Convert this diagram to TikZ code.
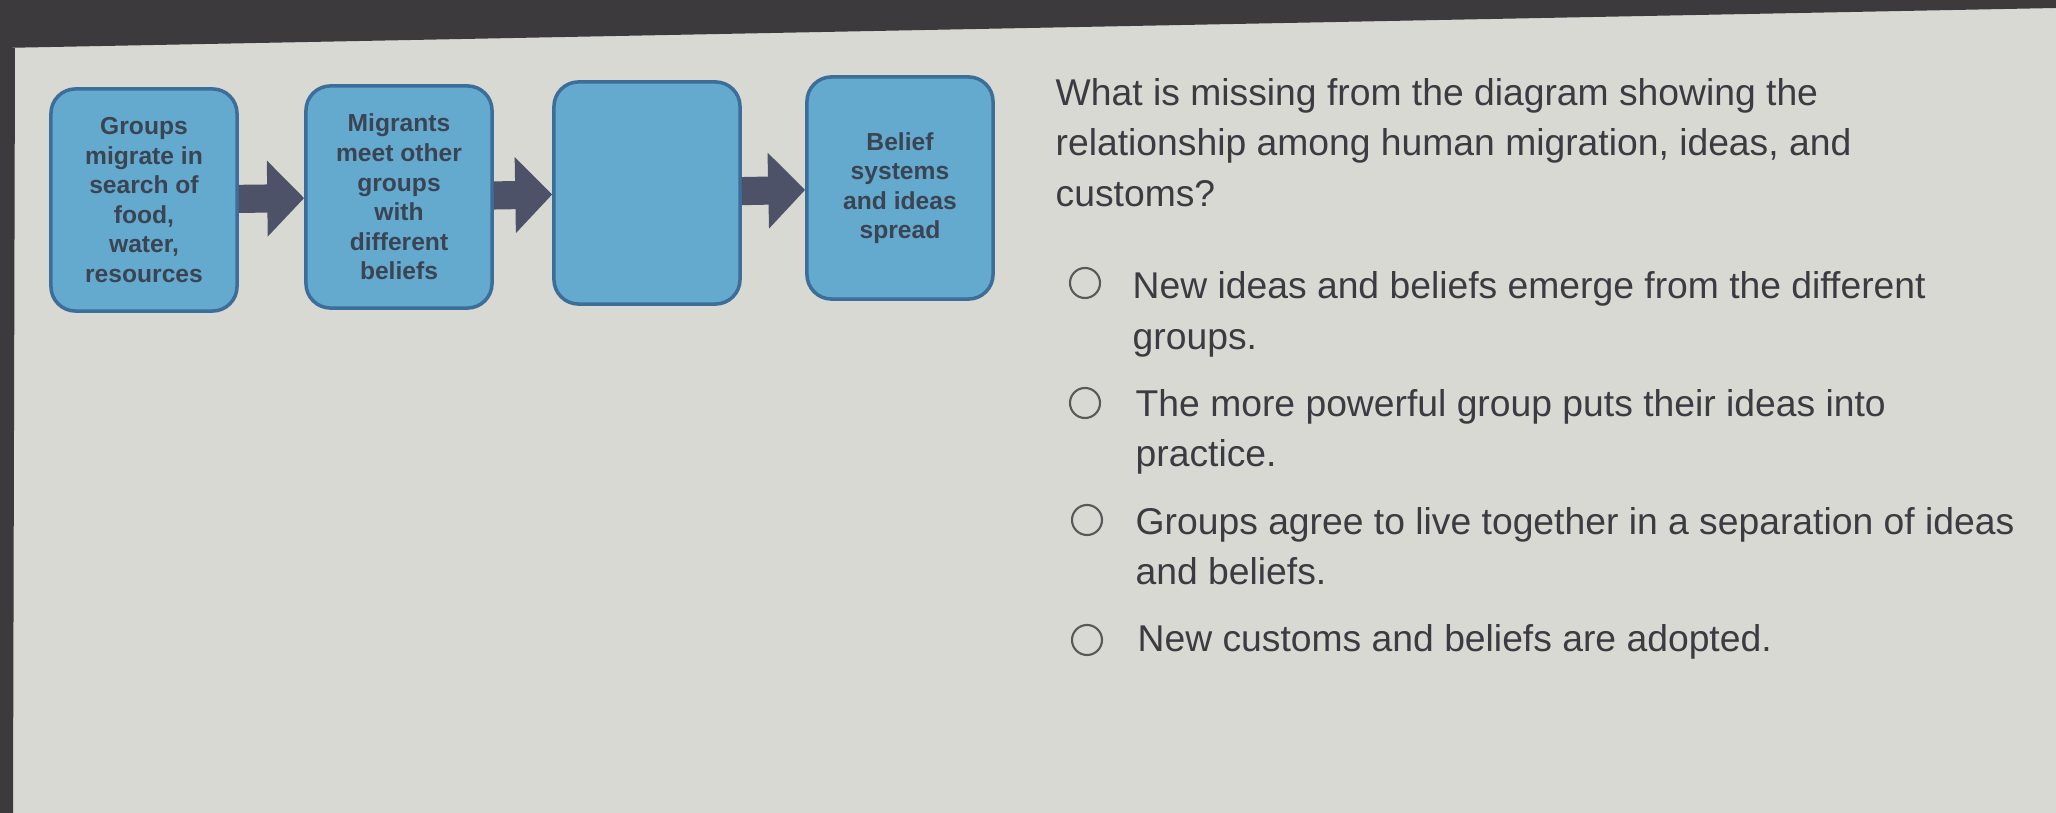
\documentclass[tikz,border=0pt]{standalone}
\usepackage{fontspec}
\setmainfont{Liberation Sans}
\usetikzlibrary{arrows.meta}

\definecolor{boxfill}{HTML}{64A9CE}
\definecolor{boxline}{HTML}{3B6E99}
\definecolor{boxtext}{HTML}{3A4452}
\definecolor{arrowgray}{HTML}{4D5268}
\definecolor{screen}{HTML}{D9D9D3}
\definecolor{bezel}{HTML}{3C3A3C}
\definecolor{qtext}{HTML}{3B3B42}

\begin{document}
\begin{tikzpicture}[
            x=0.01cm, y=-0.01cm,
            flowbox/.style={draw=boxline, line width=1pt, fill=boxfill, rounded corners=7pt,
                minimum width=1.86cm, minimum height=2.22cm, inner sep=0pt,
                align=center, text=boxtext, font=\fontsize{7}{8.4}\selectfont\bfseries},
            flow/.style={arrowgray, line width=8pt, -{Triangle[length=10.5pt, width=21pt]}},
            radio/.style={draw=black!65, line width=0.6pt, circle, minimum size=0.3cm, inner sep=0pt},
            % base of a wrapped answer is its last line
            answer/.style={anchor=base west, align=left, inner sep=0pt, text=qtext,
                font=\fontsize{10.6}{14.5}\selectfont},
            ]
            \useasboundingbox (0, 0) rectangle (2056, 813);
            \fill[screen] (0, 0) rectangle (2056, 813);
            \fill[bezel] (0, 0) -- (2056, 0) -- (2056, 8) -- (0, 48) -- cycle;
            \fill[bezel] (0, 48) -- (15, 48) -- (13, 813) -- (0, 813) -- cycle;

            \node[flowbox] (groups) at (144, 200) {Groups\\migrate in\\search of\\food,\\water,\\resources};
            \node[flowbox] (migrants) at (399, 197) {Migrants\\meet other\\groups\\with\\different\\beliefs};
            \node[flowbox] (missing) at (647, 193) {};
            \node[flowbox] (spread) at (900, 188) {Belief\\systems\\and ideas\\spread};

            \begin{scope}[flow]
                \draw (groups) -- (migrants);
                \draw (migrants) -- (missing);
                \draw (missing) -- (spread);
            \end{scope}

            \node[answer] (question) at (1055, 207) {What is missing from the diagram showing the\\relationship among human migration, ideas, and\\customs?};

            \node[radio] (r1) at (1085, 283) {};
            \node[answer] (a1) at (1132, 350) {New ideas and beliefs emerge from the different\\groups.};
            \node[radio] (r2) at (1085, 403) {};
            \node[answer] (a2) at (1135, 467) {The more powerful group puts their ideas into\\practice.};
            \node[radio] (r3) at (1087, 520) {};
            \node[answer] (a3) at (1135, 585) {Groups agree to live together in a separation of ideas\\and beliefs.};
            \node[radio] (r4) at (1087, 640) {};
            \node[answer] (a4) at (1137, 652) {New customs and beliefs are adopted.};
        \end{tikzpicture}
\end{document}
